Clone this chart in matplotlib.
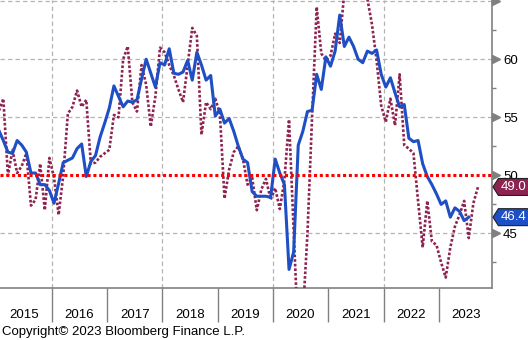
import numpy as np
from matplotlib import pyplot as plt
from matplotlib.patches import Polygon

years = [2015, 2016, 2017, 2018, 2019, 2020, 2021, 2022, 2023]

# monthly readings starting Jan 2015
pmi = [53.9, 53.0, 52.0, 51.9, 53.0, 52.6, 52.0, 50.2, 50.2, 49.2, 49.2, 48.7,
       47.6, 49.3, 51.1, 51.3, 51.5, 52.3, 52.7, 49.9, 51.2, 51.7, 53.3, 54.5,
       55.8, 57.7, 56.8, 55.9, 56.4, 56.3, 56.5, 58.3, 60.0, 58.8, 57.6, 59.7,
       59.5, 60.9, 58.8, 58.7, 58.9, 59.9, 58.2, 60.6, 59.5, 58.2, 58.6, 55.1,
       55.7, 54.5, 54.9, 53.8, 52.5, 51.4, 51.1, 48.6, 48.2, 48.2, 48.2, 48.1,
       51.4, 50.2, 49.2, 41.9, 43.4, 52.6, 53.8, 55.5, 55.6, 58.7, 57.4, 60.2,
       59.4, 60.7, 63.8, 61.1, 61.9, 61.1, 60.0, 59.7, 60.7, 60.5, 60.8, 58.7,
       57.6, 58.4, 57.1, 55.9, 56.1, 53.2, 52.9, 53.0, 51.0, 49.9, 49.2, 48.4,
       47.5, 47.8, 46.4, 47.2, 46.9, 46.1, 46.4]

regional = [55.5, 56.6, 50.0, 52.2, 50.2, 50.8, 51.9, 47.4, 47.9, 51.0, 47.0, 51.5,
            49.8, 46.6, 50.0, 55.3, 55.9, 57.3, 55.9, 56.5, 51.0, 51.1, 51.6, 51.9,
            52.2, 55.2, 55.0, 60.0, 61.1, 56.3, 55.5, 59.5, 57.8, 54.2, 56.8, 61.0,
            60.6, 59.5, 58.6, 57.4, 56.3, 59.5, 62.7, 62.0, 53.5, 56.3, 55.7, 56.6,
            55.3, 48.0, 50.5, 52.0, 52.5, 51.4, 49.2, 49.8, 47.0, 48.8, 49.7, 47.9,
            48.9, 47.1, 49.6, 54.8, 45.3, 36.0, 38.0, 45.0, 55.0, 64.5, 60.5, 59.9,
            60.3, 62.2, 61.4, 65.8, 67.5, 68.0, 67.5, 66.5, 65.2, 63.0, 59.9, 56.0,
            54.6, 56.6, 54.3, 58.7, 52.6, 52.3, 51.9, 47.8, 43.8, 47.8, 44.3, 44.0,
            42.5, 41.2, 43.8, 45.6, 46.6, 47.8, 44.6, 47.6, 49.0]

x_pmi = 2015 + (np.arange(len(pmi)) + 0.5) / 12
x_reg = 2015 + (np.arange(len(regional)) + 0.5) / 12

plt.rcParams['font.family'] = ['Liberation Sans', 'DejaVu Sans']

BLUE = '#1f4fc4'
MAROON = '#8c2350'
GREY = '#808080'

fig = plt.figure(figsize=(5.28, 3.40), dpi=100)
ax = fig.add_axes([0, 1 - 288 / 340, 492 / 528, 288 / 340])

# grid
for v in [45, 55, 60, 65]:
    ax.axhline(v, color='#b4b4b4', lw=0.9, ls=(0, (3.5, 2.5)), zorder=1)
for yr in [2016, 2018, 2020, 2022]:
    ax.axvline(yr, color='#b4b4b4', lw=0.9, ls=(0, (3.5, 2.5)), zorder=1)

ax.plot(x_reg, regional, color=MAROON, lw=1.9, ls=(0, (1, 0.75)), zorder=3)
ax.plot(x_pmi, pmi, color=BLUE, lw=2.2, zorder=4)
ax.axhline(50, color='red', lw=2.2, ls=(0, (1, 0.9)), zorder=5)

ax.set_xlim(2015.065, 2023.962)
ax.set_ylim(40.3, 65.1)

for s in ['left', 'top']:
    ax.spines[s].set_visible(False)
for s in ['right', 'bottom']:
    ax.spines[s].set_color(GREY)
    ax.spines[s].set_linewidth(1.2)

# right hand axis
ax.yaxis.tick_right()
ax.set_yticks([45, 50, 55, 60])
ax.set_yticks([42.5, 47.5, 52.5, 57.5, 62.5], minor=True)
ax.tick_params(axis='y', which='major', length=0, pad=8, labelsize=9.5)
ax.tick_params(axis='y', which='minor', length=3, color=GREY, width=1)
ax.plot([1.009] * 5, [45, 50, 55, 60, 65], transform=ax.get_yaxis_transform(),
        marker='>', ms=6, color=GREY, ls='none', clip_on=False, zorder=6)

# year separators and centred year labels
ax.set_xticks(years[1:])
ax.set_xticklabels([])
ax.set_xticks([y + 0.5 for y in years], minor=True)
ax.set_xticklabels([str(y) for y in years], minor=True)
ax.tick_params(axis='x', which='major', length=24.5, color=GREY, width=1)
ax.tick_params(axis='x', which='minor', length=0, pad=15, labelsize=9.5)


def add_tag(value, color):
    h = 0.73
    pts = [(1.002, value), (1.013, value + h), (1.075, value + h),
           (1.075, value - h), (1.013, value - h)]
    ax.add_patch(Polygon(pts, closed=True, transform=ax.get_yaxis_transform(),
                         facecolor=color, edgecolor='#202020', lw=0.8,
                         clip_on=False, zorder=7))
    ax.text(1.044, value, f'{value:.1f}', transform=ax.get_yaxis_transform(),
            color='white', fontsize=9.5, ha='center', va='center', zorder=8)


add_tag(regional[-1], MAROON)
add_tag(pmi[-1], BLUE)

fig.text(0.004, 0.024, 'Copyright\u00a9 2023 Bloomberg Finance L.P.',
         fontsize=9.5, va='center')

fig.savefig('out.png', dpi=100)
